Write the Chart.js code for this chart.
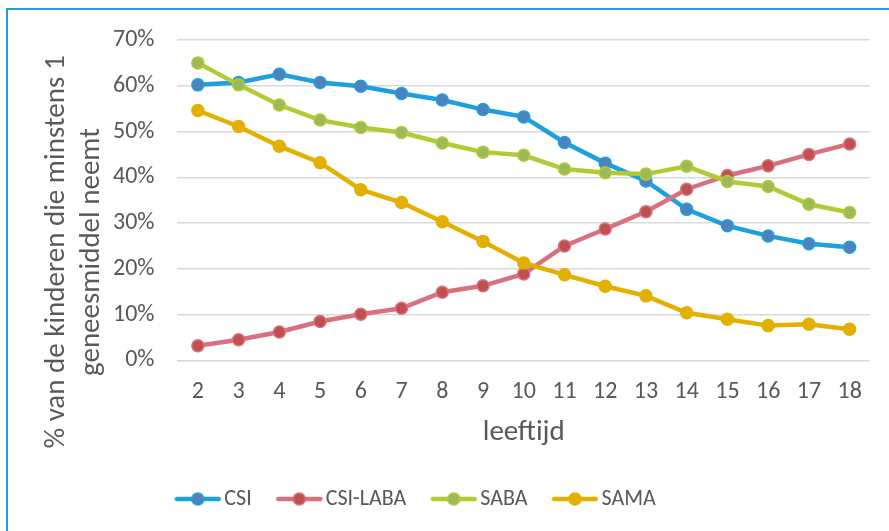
<!DOCTYPE html>
<html>
<head>
<meta charset="utf-8">
<script src="https://cdn.jsdelivr.net/npm/chart.js@4.4.1/dist/chart.umd.min.js"></script>
<style>
  html, body { margin: 0; padding: 0; background: #fff; overflow: hidden; }
  #wrap { position: relative; width: 889px; height: 531px; }
  #frame { position: absolute; left: 6px; top: 8px; width: 1000px; height: 1000px;
           border: 2px solid #1ea0dc; box-sizing: border-box; pointer-events: none; }
  #chart { position: absolute; left: 0; top: 0; }
</style>
</head>
<body>
<div id="wrap">
  <canvas id="chart" width="889" height="531"></canvas>
  <div id="frame"></div>
</div>
<script>
// leeftijd (jaren)
var ages = ['2','3','4','5','6','7','8','9','10','11','12','13','14','15','16','17','18'];

// % kinderen per geneesmiddelgroep
var csi     = [60.2, 60.7, 62.5, 60.7, 59.9, 58.3, 56.9, 54.8, 53.2, 47.6, 43.1, 39.2, 33.0, 29.4, 27.2, 25.5, 24.7];
var csiLaba = [3.2, 4.5, 6.2, 8.5, 10.1, 11.4, 14.9, 16.3, 18.9, 25.0, 28.7, 32.5, 37.4, 40.4, 42.5, 45.0, 47.3];
var saba    = [65.0, 60.2, 55.8, 52.5, 50.9, 49.8, 47.5, 45.5, 44.8, 41.8, 41.0, 40.7, 42.4, 39.1, 38.0, 34.1, 32.3];
var sama    = [54.6, 51.1, 46.8, 43.2, 37.3, 34.5, 30.3, 26.0, 21.3, 18.7, 16.2, 14.1, 10.4, 9.0, 7.6, 7.9, 6.8];

var yTicks = [0, 10, 20, 30, 40, 50, 60, 70];
var yTitle = ['% van de kinderen die minstens 1', 'geneesmiddel neemt'];

var seriesNames = ['CSI', 'CSI-LABA', 'SABA', 'SAMA'];
var lineColors  = ['#1ea0dc', '#d9707f', '#b5c934', '#e3b000'];
var dotColors   = ['#4f81bd', '#c0504d', '#9bbb59', '#e3b000'];

var textColor = '#595959';
var fontFamily = 'Carlito, Lato, "Open Sans", sans-serif';

// line + dot sample for the legend; the canvas is centred on the legend box
function legendMarker(line, dot) {
  var c = document.createElement('canvas');
  c.width = 57; c.height = 16;
  var g = c.getContext('2d');
  g.strokeStyle = line;
  g.lineWidth = 4.5;
  g.lineCap = 'round';
  g.beginPath(); g.moveTo(12.5, 8); g.lineTo(54.5, 8); g.stroke();
  g.beginPath(); g.arc(33.5, 8, 6, 0, Math.PI * 2);
  g.fillStyle = dot; g.fill();
  g.lineWidth = 1.5; g.strokeStyle = line; g.stroke();
  return c;
}

var markers = seriesNames.map(function (n, i) { return legendMarker(lineColors[i], dotColors[i]); });

function makeSet(i, values) {
  return {
    label: seriesNames[i],
    data: values,
    borderColor: lineColors[i],
    backgroundColor: dotColors[i],
    pointBackgroundColor: dotColors[i],
    pointBorderColor: lineColors[i],
    pointBorderWidth: 1.5,
    pointRadius: 6,
    pointHoverRadius: 6,
    borderWidth: 4.5,
    tension: 0,
    fill: false,
    order: 3 - i
  };
}

// the legend row sits left of centre and a little higher
var legendShift = {
  id: 'legendShift',
  afterLayout: function (chart) {
    var lg = chart.legend;
    if (lg) {
      lg.left -= 66;
      lg.right -= 66;
      lg.top -= 10;
      lg.bottom -= 10;
    }
  }
};

// two-line vertical axis title, centred lower than the plot area
var sideTitle = {
  id: 'sideTitle',
  afterDraw: function (chart) {
    var c = chart.ctx;
    c.save();
    c.fillStyle = textColor;
    c.font = '29px ' + fontFamily;
    c.textAlign = 'center';
    c.textBaseline = 'middle';
    var xs = [57, 92];
    yTitle.forEach(function (t, i) {
      c.save();
      c.translate(xs[i], 252);
      c.rotate(-Math.PI / 2);
      c.fillText(t, 0, 0);
      c.restore();
    });
    c.restore();
  }
};

var ctx = document.getElementById('chart');
var myChart = new Chart(ctx, {
  type: 'line',
  data: {
    labels: ages,
    datasets: [
      makeSet(0, csi),
      makeSet(1, csiLaba),
      makeSet(2, saba),
      makeSet(3, sama)
    ]
  },
  plugins: [legendShift, sideTitle],
  options: {
    responsive: false,
    animation: false,
    layout: { padding: { top: 40, right: 19, bottom: 1, left: 90 } },
    plugins: {
      tooltip: { enabled: false },
      legend: {
        position: 'bottom',
        labels: {
          usePointStyle: true,
          pointStyleWidth: 41,
          padding: 22,
          color: textColor,
          font: { family: fontFamily, size: 22 },
          sort: function (a, b) { return a.datasetIndex - b.datasetIndex; },
          generateLabels: function (chart) {
            var items = Chart.defaults.plugins.legend.labels.generateLabels(chart);
            items.forEach(function (it) { it.pointStyle = markers[it.datasetIndex]; });
            return items;
          }
        }
      }
    },
    scales: {
      x: {
        offset: true,
        grid: { display: false, drawTicks: false },
        border: { display: false },
        ticks: { color: textColor, font: { family: fontFamily, size: 24 }, padding: 17, maxRotation: 0 },
        title: { display: true, text: 'leeftijd', color: textColor, font: { family: fontFamily, size: 29 }, padding: { top: -8, bottom: 26 } }
      },
      y: {
        min: 0,
        max: 70,
        afterBuildTicks: function (scale) {
          scale.ticks = yTicks.map(function (v) { return { value: v }; });
        },
        grid: { color: '#d9d9d9', lineWidth: 1.5, drawTicks: false },
        border: { display: false },
        ticks: {
          color: textColor,
          font: { family: fontFamily, size: 24 },
          padding: 23,
          callback: function (v) { return v + '%'; }
        }
      }
    }
  }
});
</script>
</body>
</html>
